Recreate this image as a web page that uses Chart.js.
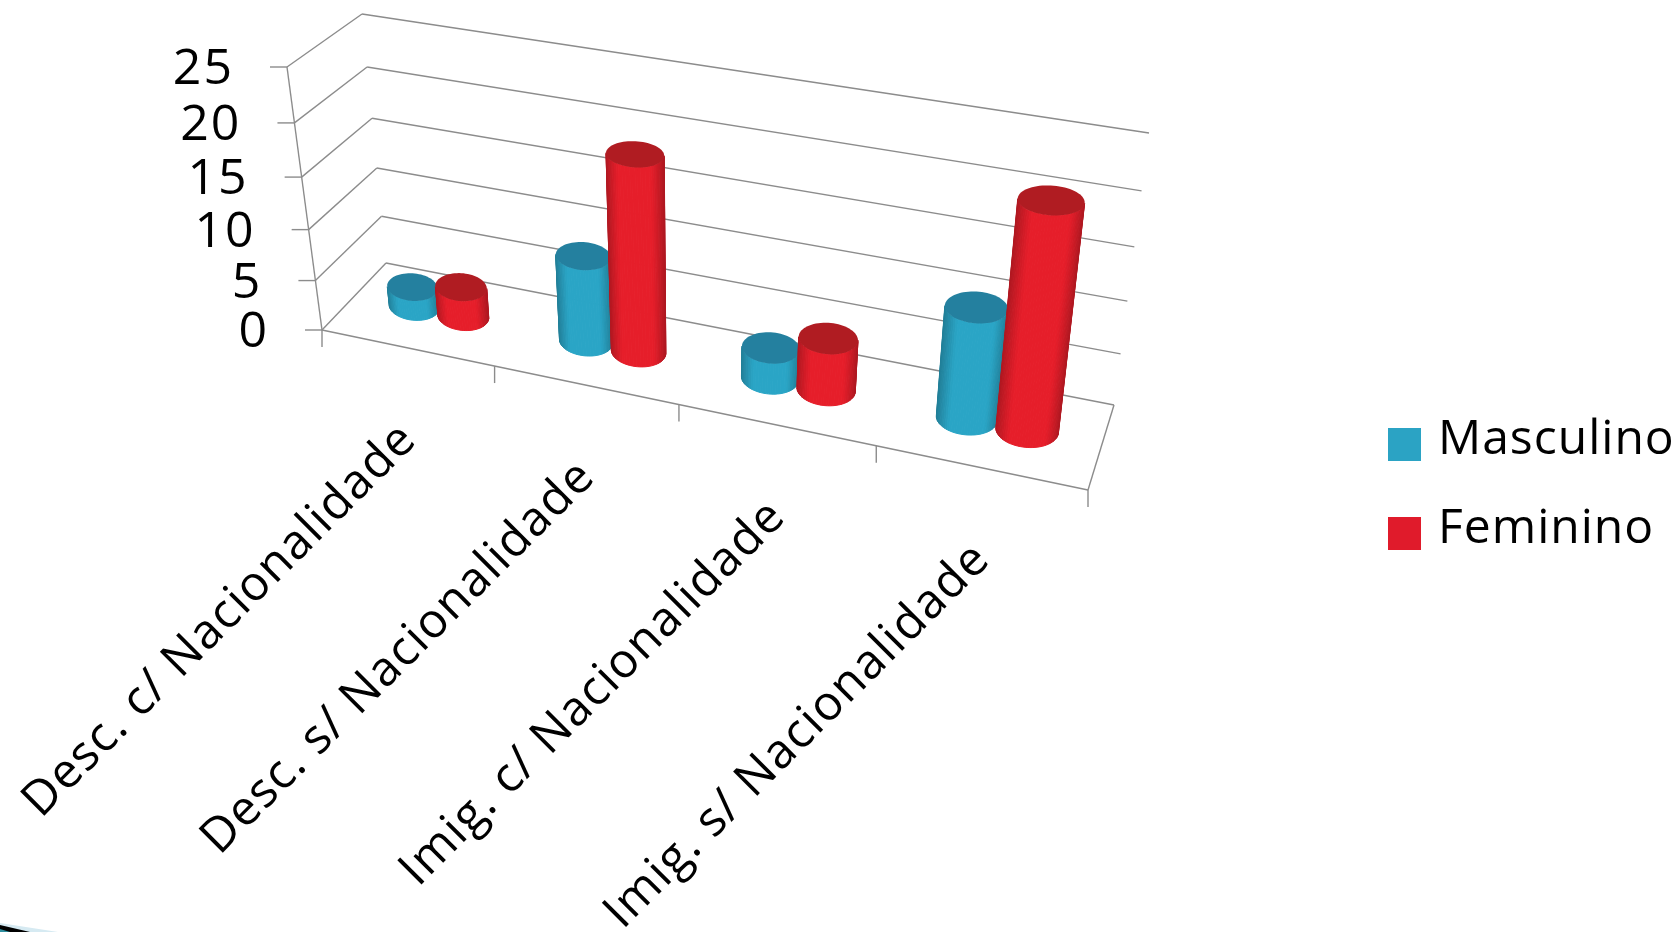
<!DOCTYPE html>
<html>
<head>
<meta charset="utf-8">
<style>
  html, body { margin: 0; padding: 0; background: #fff; overflow: hidden; }
  canvas { display: block; }
</style>
<script src="https://cdn.jsdelivr.net/npm/chart.js@4"></script>
</head>
<body>
<canvas id="myChart" width="1678" height="932"></canvas>
<script>
const categories = [
  "Desc. c/ Nacionalidade",
  "Desc. s/ Nacionalidade",
  "Imig. c/ Nacionalidade",
  "Imig. s/ Nacionalidade",
];
const masculino = [2, 8.5, 3, 10.5];
const feminino = [3, 19, 5, 21];
const yMax = 25;
const yStep = 5;

const TEXT = "#000";
const GRID = "#8c8c8c";

// corners of the 3d box on screen: front/back, floor/top
const box = {
  floorFL: [322, 330], floorFR: [1088, 490], floorBL: [386, 263], floorBR: [1114, 405],
  topFL: [287, 67], topFR: [1124, 203], topBL: [362, 14], topBR: [1149, 133],
};
const PERSP_X = 1.146;
const PERSP_Y = 1.08;
const DEPTH_MID = 0.53;
const FLATNESS = 0.56; // ellipse height / width of a cylinder end
const TILT = 0.06;

const lerp = (a, b, t) => [a[0] + (b[0] - a[0]) * t, a[1] + (b[1] - a[1]) * t];

function project(u, v, w) {
  const t = u / (u + PERSP_X * (1 - u));
  const h = v / (v + PERSP_Y * (1 - v));
  const floor = lerp(lerp(box.floorFL, box.floorFR, t), lerp(box.floorBL, box.floorBR, t), w);
  const top = lerp(lerp(box.topFL, box.topFR, t), lerp(box.topBL, box.topBR, t), w);
  return lerp(floor, top, h);
}

function line(ctx, a, b) {
  ctx.beginPath();
  ctx.moveTo(a[0], a[1]);
  ctx.lineTo(b[0], b[1]);
  ctx.stroke();
}

function drawBox(chart) {
  const { ctx, chartArea, scales } = chart;
  const yScale = scales.y;
  const n = categories.length;
  ctx.save();
  ctx.strokeStyle = GRID;
  ctx.lineWidth = 1.4;

  // value gridlines on the side and back walls, ticks and labels
  ctx.font = '50px "Open Sans"';
  ctx.letterSpacing = "2px";
  ctx.fillStyle = TEXT;
  ctx.textAlign = "right";
  ctx.textBaseline = "middle";
  for (const tick of yScale.ticks) {
    const v = (chartArea.bottom - yScale.getPixelForValue(tick.value)) / chartArea.height;
    const front = project(0, v, 0);
    const back = project(0, v, 1);
    line(ctx, front, back);
    line(ctx, back, project(1, v, 1));
    line(ctx, front, [front[0] - 17, front[1]]);
    ctx.fillText(tick.value, front[0] - 53, front[1] + 3);
  }
  line(ctx, project(0, 0, 0), project(0, 1, 0));

  // floor
  line(ctx, project(0, 0, 0), project(1, 0, 0));
  line(ctx, project(1, 0, 0), project(1, 0, 1));
  for (let i = 0; i <= n; i++) {
    const p = project(i / n, 0, 0);
    line(ctx, p, [p[0], p[1] + 17]);
  }

  // category labels
  ctx.font = '48px "Open Sans"';
  ctx.letterSpacing = "1.3px";
  const xScale = scales.x;
  xScale.getLabels().forEach((label, i) => {
    const u = (xScale.getPixelForValue(i) - chartArea.left) / chartArea.width;
    const p = project(u, 0, 0);
    ctx.save();
    ctx.translate(p[0] + 2, p[1] + 84);
    ctx.rotate(-Math.PI / 4);
    ctx.fillText(label, 0, 0);
    ctx.restore();
  });
  ctx.restore();
}

function shade(rgb, k) {
  return `rgb(${rgb.map((c) => Math.round(c * k)).join(",")})`;
}

function drawCylinder(ctx, bar, area, body, top) {
  const { x, y, base, width } = bar.getProps(["x", "y", "base", "width"], true);
  const u = (x - area.left) / area.width;
  const ru = width / 2 / area.width;
  const vTop = (area.bottom - y) / area.height;
  const vBase = (area.bottom - base) / area.height;
  const steps = 72;

  // floor jacobian, used to turn a flat screen ellipse into (u, w) offsets
  const c0 = project(u, 0, DEPTH_MID);
  const cu = project(u + 0.001, 0, DEPTH_MID);
  const cw = project(u, 0, DEPTH_MID + 0.001);
  const xu = (cu[0] - c0[0]) / 0.001, yu = (cu[1] - c0[1]) / 0.001;
  const xw = (cw[0] - c0[0]) / 0.001, yw = (cw[1] - c0[1]) / 0.001;
  const det = xu * yw - xw * yu;
  const rx = ru * xu;
  const ry = rx * FLATNESS;

  const ring = (v) => {
    const pts = [];
    for (let i = 0; i <= steps; i++) {
      const a = (i / steps) * Math.PI * 2;
      const dx = rx * Math.cos(a);
      const dy = -ry * Math.sin(a) + TILT * dx;
      const du = (yw * dx - xw * dy) / det;
      const dw = (xu * dy - yu * dx) / det;
      pts.push(project(u + du, v, DEPTH_MID + dw));
    }
    return pts;
  };
  const low = ring(vBase);
  const high = ring(vTop);
  const xs = low.map((p) => p[0]);
  const minX = Math.min(...xs);
  const maxX = Math.max(...xs);

  for (let i = 0; i < steps; i++) {
    const p0 = low[i], p1 = low[i + 1], q0 = high[i], q1 = high[i + 1];
    const cross = (p1[0] - p0[0]) * (q0[1] - p0[1]) - (p1[1] - p0[1]) * (q0[0] - p0[0]);
    if (cross > 0) continue;
    const s = ((p0[0] + p1[0]) / 2 - minX) / (maxX - minX);
    const color = shade(body, 0.76 + 0.24 * Math.min(1, Math.sin(Math.PI * s) * 1.6));
    ctx.fillStyle = color;
    ctx.strokeStyle = color;
    ctx.lineWidth = 1;
    ctx.beginPath();
    ctx.moveTo(p0[0], p0[1]);
    ctx.lineTo(p1[0], p1[1]);
    ctx.lineTo(q1[0], q1[1]);
    ctx.lineTo(q0[0], q0[1]);
    ctx.closePath();
    ctx.fill();
    ctx.stroke();
  }

  ctx.fillStyle = top;
  ctx.beginPath();
  high.forEach((p, i) => (i ? ctx.lineTo(p[0], p[1]) : ctx.moveTo(p[0], p[1])));
  ctx.closePath();
  ctx.fill();
}

function drawLegend(chart) {
  const { ctx } = chart;
  ctx.save();
  ctx.font = '48px "Open Sans"';
  ctx.letterSpacing = "1px";
  ctx.textAlign = "left";
  ctx.textBaseline = "middle";
  chart.data.datasets.forEach((ds, i) => {
    const boxY = 428 + i * 89;
    ctx.fillStyle = ds.backgroundColor;
    ctx.fillRect(1388, boxY, 33, 33);
    ctx.fillStyle = TEXT;
    ctx.fillText(ds.label, 1438, boxY + 12);
  });
  ctx.restore();
}

function drawCorner(ctx) {
  const h = 932;
  const shapes = [
    ["#d6eaf2", [[0, h - 9], [58, h], [0, h]]],
    ["#000", [[0, h - 7], [30, h], [0, h]]],
    ["#2f8f9f", [[0, h - 3], [10, h], [0, h]]],
  ];
  for (const [color, pts] of shapes) {
    ctx.fillStyle = color;
    ctx.beginPath();
    pts.forEach((p, i) => (i ? ctx.lineTo(p[0], p[1]) : ctx.moveTo(p[0], p[1])));
    ctx.closePath();
    ctx.fill();
  }
}

const cylinders3d = {
  id: "cylinders3d",
  beforeDatasetsDraw(chart) {
    const { ctx, chartArea } = chart;
    drawCorner(ctx);
    drawBox(chart);
    chart.data.datasets.forEach((ds, i) => {
      for (const bar of chart.getDatasetMeta(i).data) {
        drawCylinder(ctx, bar, chartArea, ds.bodyRgb, ds.topColor);
      }
    });
    drawLegend(chart);
    return false;
  },
};

new Chart(document.getElementById("myChart"), {
  type: "bar",
  data: {
    labels: categories,
    datasets: [
      {
        label: "Masculino",
        data: masculino,
        backgroundColor: "#2ba3c4",
        bodyRgb: [42, 165, 198],
        topColor: "#24809f",
        categoryPercentage: 0.584,
        barPercentage: 1.03,
      },
      {
        label: "Feminino",
        data: feminino,
        backgroundColor: "#e01b2b",
        bodyRgb: [230, 30, 42],
        topColor: "#b01c22",
        categoryPercentage: 0.584,
        barPercentage: 1.03,
      },
    ],
  },
  options: {
    responsive: false,
    animation: false,
    layout: { padding: 0 },
    plugins: { legend: { display: false }, tooltip: { enabled: false } },
    scales: {
      x: { display: false },
      y: { display: false, min: 0, max: yMax, ticks: { stepSize: yStep } },
    },
  },
  plugins: [cylinders3d],
});
</script>
</body>
</html>
